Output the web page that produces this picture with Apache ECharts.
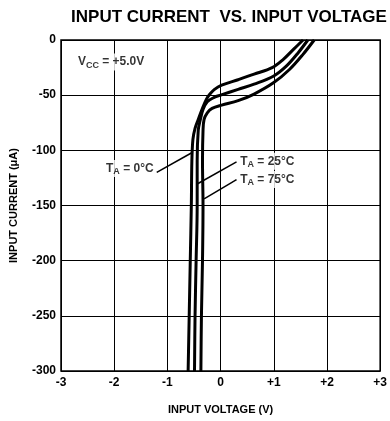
<!DOCTYPE html>
<html>
<head>
<meta charset="utf-8">
<script src="https://cdn.jsdelivr.net/npm/echarts@6/dist/echarts.min.js"></script>
<style>
html,body{margin:0;padding:0;background:#fff;}
#chart{width:390px;height:421px;}
</style>
</head>
<body>
<div id="chart"></div>
<script>
// Data (input voltage V, input current µA)
var curve0C = [[-0.61,-300],[-0.59,-250],[-0.57,-200],[-0.55,-150],[-0.54,-110],[-0.52,-90],[-0.48,-80],[-0.42,-72],[-0.35,-63],[-0.27,-54],[-0.2,-49],[-0.12,-45],[0.02,-41],[0.33,-36],[0.63,-31],[0.97,-25],[1.18,-17.5],[1.37,-8.5],[1.55,0]];
var curve25C = [[-0.49,-300],[-0.48,-250],[-0.46,-200],[-0.44,-150],[-0.44,-110],[-0.42,-82],[-0.38,-72],[-0.33,-63],[-0.25,-56],[-0.12,-52],[0.0,-50],[0.33,-44.7],[0.63,-40],[1.0,-32.6],[1.24,-23.5],[1.46,-11.5],[1.64,0]];
var curve75C = [[-0.37,-300],[-0.36,-250],[-0.34,-200],[-0.33,-150],[-0.34,-110],[-0.33,-82],[-0.31,-72],[-0.25,-66],[-0.16,-62],[0.02,-59],[0.33,-55],[0.63,-49],[1.0,-38.6],[1.3,-26.5],[1.55,-13],[1.76,0]];
var xTickLabels = {'-3':'-3','-2':'-2','-1':'-1','0':'0','1':'+1','2':'+2','3':'+3'};
var titleText = 'INPUT CURRENT  VS. INPUT VOLTAGE';
var xName = 'INPUT VOLTAGE (V)';
var yName = 'INPUT CURRENT (\u03BCA)';

var FONT = '"Liberation Sans", Arial, sans-serif';
var chart = echarts.init(document.getElementById('chart'), null, {renderer:'canvas'});

var rich = {
  b:{fontFamily:FONT,fontWeight:'bold',fontSize:12,color:'#000'},
  s:{fontFamily:FONT,fontWeight:'bold',fontSize:9,color:'#000',padding:[6,0,0,0]}
};
function annLabel(pos, text){
  return {show:true,position:pos,distance:0,formatter:text,rich:rich,
    backgroundColor:'#fff',padding:[1,2,1,2]};
}

function curveSeries(name, data){
  return {
    name:name, type:'line', data:data, smooth:0.35, showSymbol:false, symbol:'none',
    lineStyle:{color:'#000',width:3}, z:5, animation:false
  };
}

var option = {
  animation:false,
  title:{
    text:titleText, left:224, top:4, textAlign:'center',
    textStyle:{fontFamily:FONT,fontWeight:'bold',fontSize:17,color:'#000'}
  },
  grid:{left:58,right:4,top:40,bottom:50,show:true,borderColor:'#000',borderWidth:1.5,backgroundColor:'transparent'},
  xAxis:{
    type:'value',min:-3,max:3,interval:1,
    name:xName,nameLocation:'middle',nameGap:33,
    nameTextStyle:{fontFamily:FONT,fontWeight:'bold',fontSize:11,color:'#000'},
    axisLine:{show:false},axisTick:{show:false},
    axisLabel:{fontFamily:FONT,fontWeight:'bold',fontSize:12,color:'#000',margin:6,
      formatter:function(v){return xTickLabels[String(v)];}},
    splitLine:{show:true,lineStyle:{color:'#000',width:1}}
  },
  yAxis:{
    type:'value',min:-300,max:0,interval:50,
    name:yName,nameLocation:'middle',nameGap:42,nameRotate:90,
    nameTextStyle:{fontFamily:FONT,fontWeight:'bold',fontSize:11,color:'#000'},
    axisLine:{show:false},axisTick:{show:false},
    axisLabel:{fontFamily:FONT,fontWeight:'bold',fontSize:12,color:'#000',margin:5},
    splitLine:{show:true,lineStyle:{color:'#000',width:1}}
  },
  series:[
    curveSeries('0', curve0C),
    curveSeries('25', curve25C),
    curveSeries('75', curve75C),
    {
      type:'lines', coordinateSystem:'cartesian2d', silent:true, z:6,
      lineStyle:{color:'#000',width:1.5,opacity:1},
      data:[
        {coords:[[-1.2,-120],[-0.55,-102.4]]},
        {coords:[[0.3,-110.5],[-0.44,-130.5]]},
        {coords:[[0.3,-126.5],[-0.31,-144]]}
      ]
    },
    {
      type:'scatter', symbolSize:0, silent:true, z:7,
      data:[
        {value:[-1.22,-116.5],label:annLabel('left','{b|T}{s|A}{b| = 0\u00B0C}')},
        {value:[0.33,-110],label:annLabel('right','{b|T}{s|A}{b| = 25\u00B0C}')},
        {value:[0.33,-126.5],label:annLabel('right','{b|T}{s|A}{b| = 75\u00B0C}')},
        {value:[-2.72,-20],label:annLabel('right','{b|V}{s|CC}{b| = +5.0V}')}
      ]
    }
  ]
};
chart.setOption(option);
</script>
</body>
</html>
